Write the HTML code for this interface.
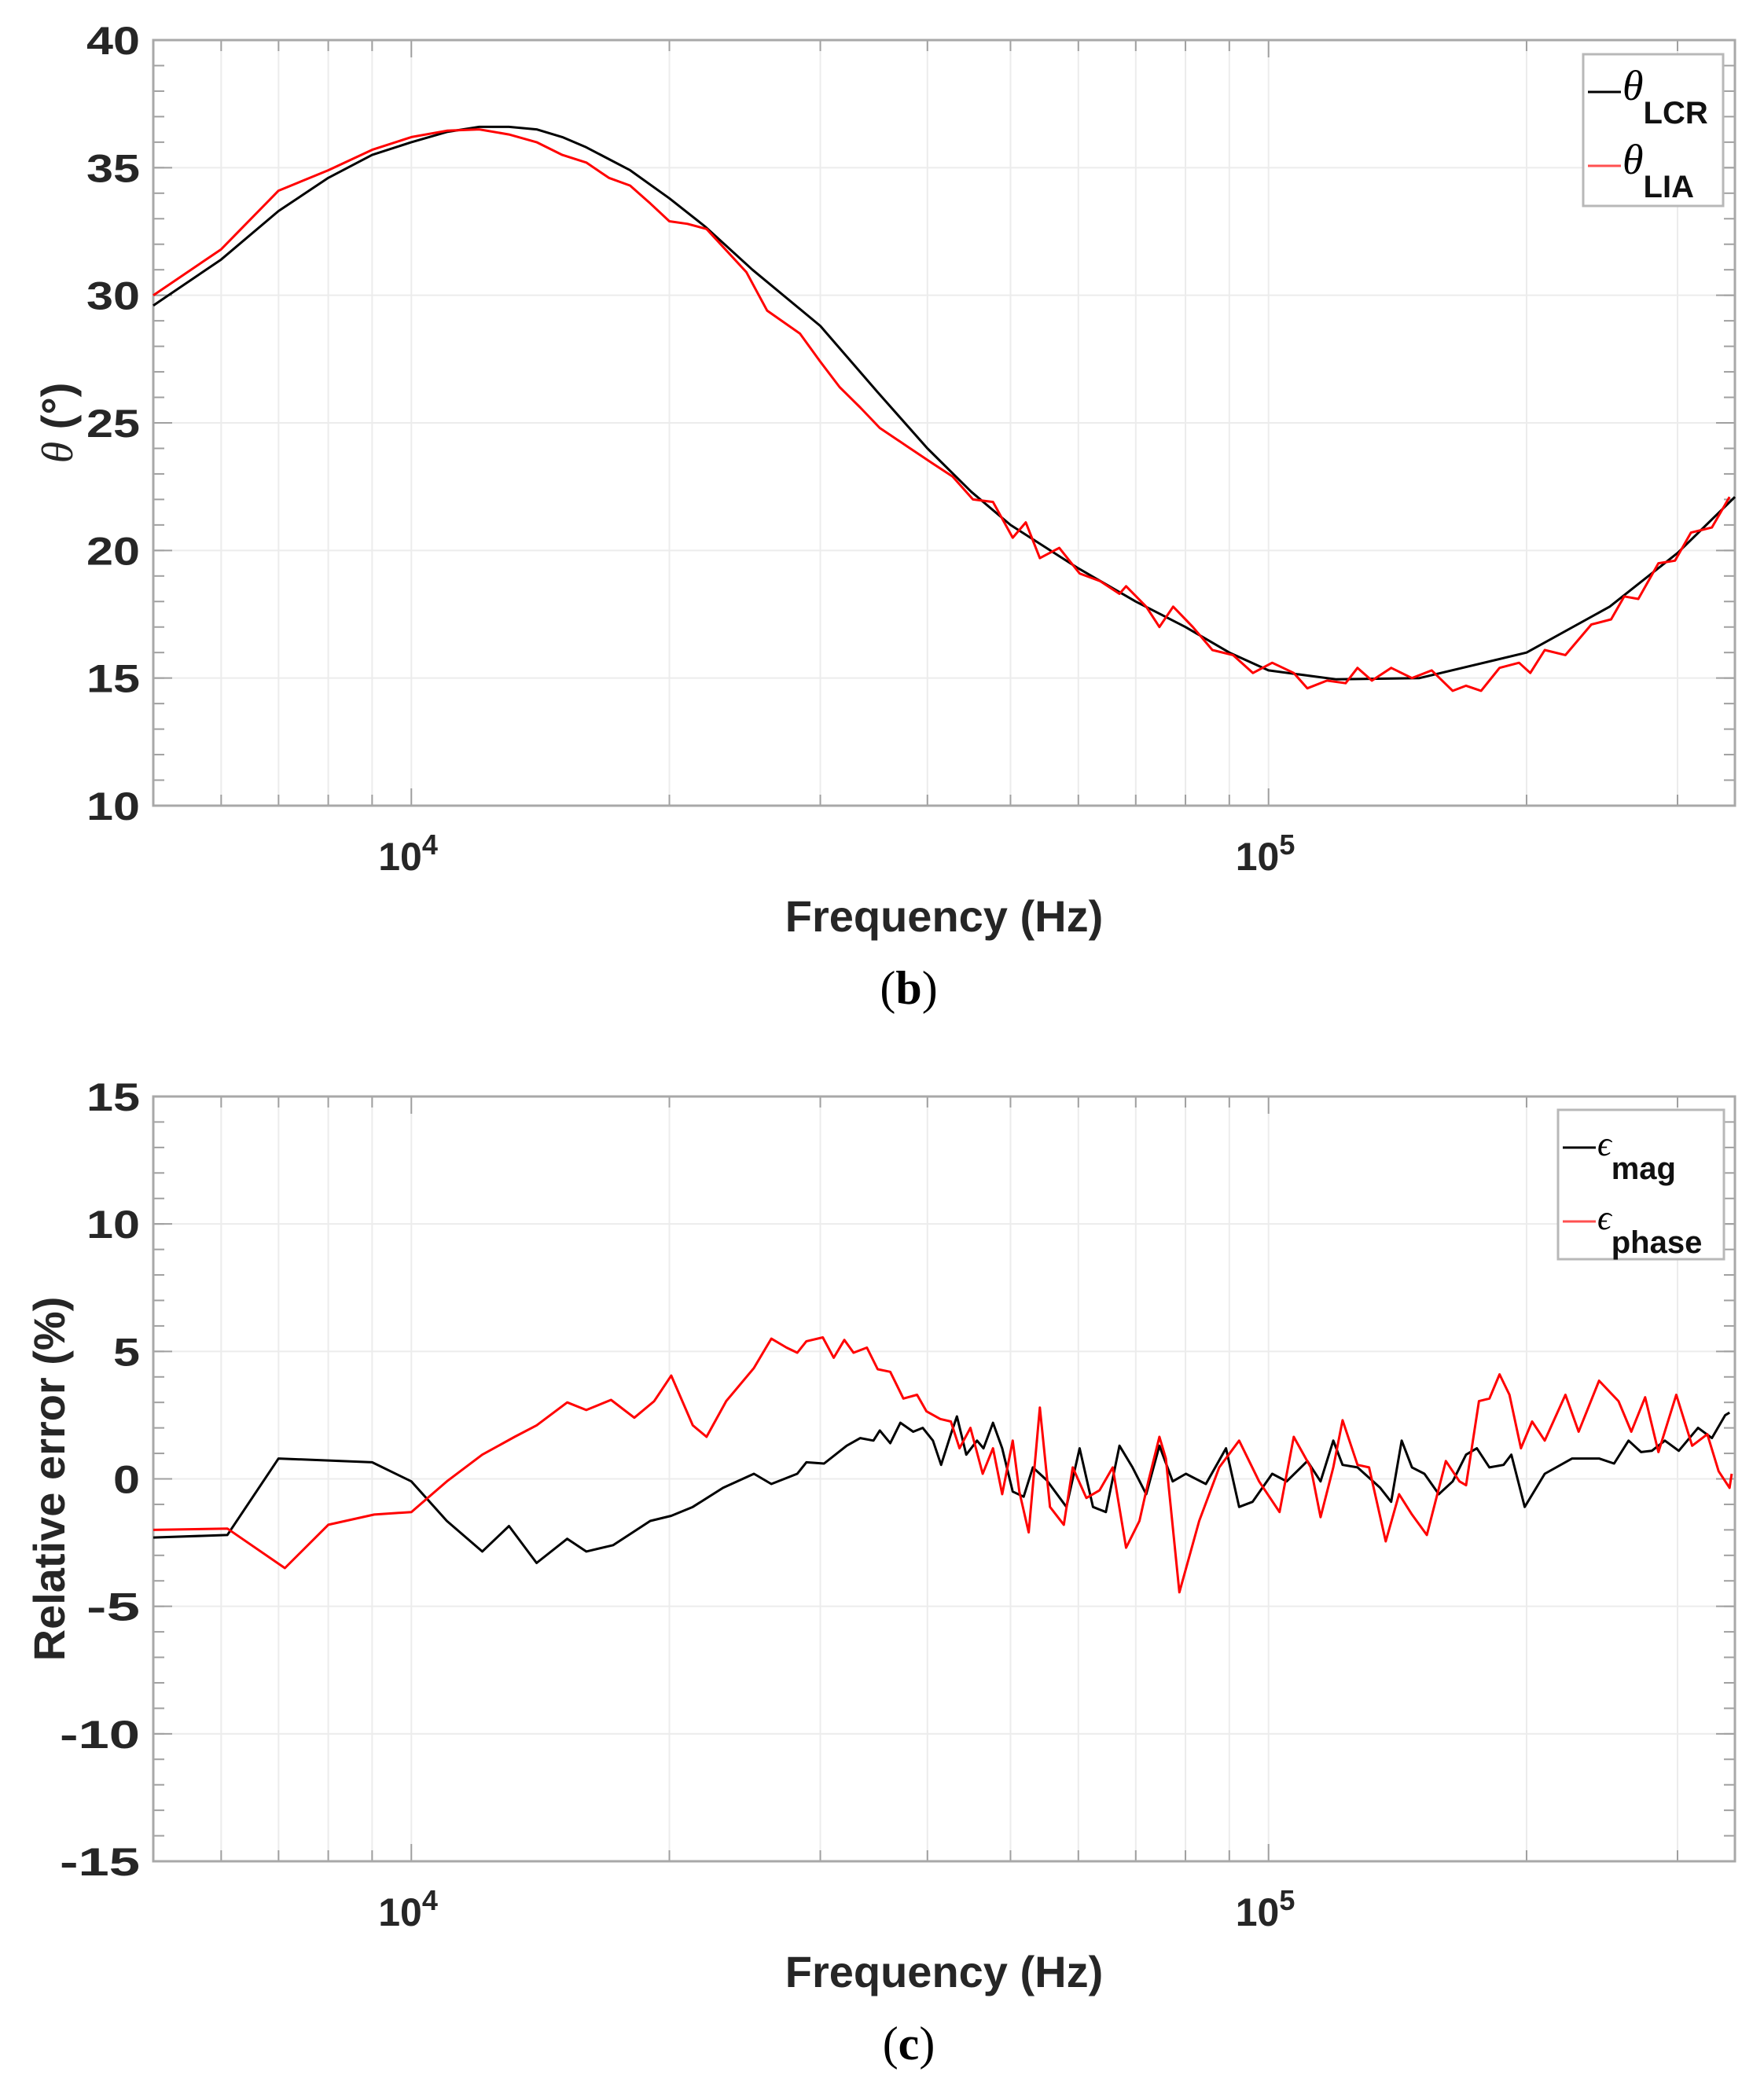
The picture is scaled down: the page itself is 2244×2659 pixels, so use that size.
<!DOCTYPE html>
<html><head><meta charset="utf-8">
<style>
html,body{margin:0;padding:0;background:#fff;}
svg{display:block;}
text{font-family:"Liberation Sans",Arial,sans-serif;}
.tick{font-size:50px;font-weight:bold;fill:#262626;}
.lab{font-size:56px;font-weight:bold;fill:#262626;}
</style></head>
<body>
<svg id="chart" width="2244" height="2659" viewBox="0 0 2244 2659" xmlns="http://www.w3.org/2000/svg"></svg>
<script>
// ---- data (frequency in kHz) ----
const lcrFreq = [5,6,7,8,9,10,11,12,13,14,15,16,18,20,22,25,30,35,40,45,50,60,70,80,90,100,120,150,200,250,300,350];
const lcrTheta = [29.6,31.4,33.3,34.6,35.5,36.0,36.4,36.6,36.6,36.5,36.2,35.8,34.9,33.8,32.7,31.0,28.8,26.2,24.0,22.3,21.0,19.3,18.0,17.0,16.0,15.3,14.95,15.0,16.0,17.8,19.9,22.1];
const liaFreq = [5,6,7,8,9,10,11,12,13,14,15,16,17,18,19,20,21,22.1,24.6,26.0,28.4,30.0,31.6,33.4,35.2,37.8,40.6,42.8,45.2,47.7,50.3,52.1,54.1,57.0,60.2,63.6,67.0,68.2,72.0,74.6,77.4,81.6,86.0,90.9,95.9,101,107,111,117,123,127,132,139,147,155,164,170,177,186,196,202,210,222,238,251,260,270,285,298,311,329,345];
const liaTheta = [30.0,31.8,34.1,34.9,35.7,36.2,36.45,36.5,36.3,36.0,35.5,35.2,34.6,34.3,33.6,32.9,32.8,32.6,30.9,29.4,28.5,27.4,26.4,25.6,24.8,24.1,23.4,22.9,22.0,21.9,20.5,21.1,19.7,20.1,19.1,18.8,18.3,18.6,17.8,17.0,17.8,17.0,16.1,15.9,15.2,15.6,15.2,14.6,14.9,14.8,15.4,14.9,15.4,15.0,15.3,14.5,14.7,14.5,15.4,15.6,15.2,16.1,15.9,17.1,17.3,18.2,18.1,19.5,19.6,20.7,20.9,22.1];
const magFreq = [5,6.1,7,9,10,11,12.1,13,14,15.2,16,17.2,19,20.1,21.3,23.1,25.1,26.3,28.2,28.9,30.3,32.2,33.4,34.6,35.2,36.2,37.2,38.5,39.5,40.6,41.5,42.6,43.3,44.4,45.7,46.5,47.7,48.9,50.3,51.8,53.1,55.1,58.1,60.2,62.4,64.6,67.0,69.4,72.0,74.6,77.3,80.1,84.5,89.2,92.4,95.8,101,105,111,115,119,122,127,135,139,143,147,152,158,164,170,175,181,188,192,199,210,226,243,253,263,272,280,290,301,317,329,341,345];
const magErr = [-2.3,-2.2,0.8,0.65,-0.1,-1.65,-2.85,-1.85,-3.3,-2.35,-2.85,-2.6,-1.65,-1.45,-1.1,-0.35,0.2,-0.2,0.2,0.65,0.6,1.3,1.6,1.5,1.9,1.4,2.2,1.85,2.0,1.5,0.55,1.75,2.45,0.95,1.5,1.2,2.2,1.2,-0.5,-0.7,0.45,-0.05,-1.1,1.2,-1.1,-1.3,1.3,0.45,-0.6,1.3,-0.1,0.2,-0.2,1.2,-1.1,-0.9,0.2,-0.1,0.7,-0.1,1.5,0.55,0.45,-0.35,-0.9,1.5,0.45,0.2,-0.6,-0.1,0.95,1.2,0.45,0.55,0.95,-1.1,0.2,0.8,0.8,0.6,1.5,1.05,1.1,1.5,1.1,2.0,1.6,2.5,2.6];
const phFreq = [5,6.1,7.12,8,9.05,10,11,12.1,13.2,14,15.2,16,17.1,18.2,19.2,20.1,21.3,22.1,23.3,25.1,26.3,27.4,28.2,28.9,30.2,31.1,32,32.8,34,35,36.2,37.5,38.9,39.9,41.4,42.6,43.6,44.9,46.4,47.7,48.9,50.3,51.2,52.5,54.1,55.6,57.7,59.1,61.3,63.5,65.8,68.2,70.7,72.4,74.6,75.9,78.7,83,87.6,92.4,97.5,103,107,112,115,119,122,127,131,137,142,147,153,161,167,170,176,181,186,191,197,203,210,222,230,243,256,265,275,285,299,312,325,335,345,347];
const phErr = [-2.0,-1.95,-3.5,-1.8,-1.4,-1.3,-0.1,0.95,1.65,2.1,3.0,2.7,3.1,2.4,3.05,4.05,2.1,1.65,3.05,4.35,5.5,5.15,4.95,5.4,5.55,4.75,5.45,4.95,5.15,4.3,4.2,3.15,3.3,2.65,2.35,2.25,1.2,2.0,0.2,1.2,-0.6,1.5,-0.5,-2.1,2.8,-1.1,-1.8,0.45,-0.75,-0.45,0.45,-2.7,-1.65,-0.1,1.65,0.8,-4.45,-1.65,0.45,1.5,-0.1,-1.3,1.65,0.45,-1.5,0.45,2.3,0.55,0.45,-2.45,-0.6,-1.4,-2.2,0.7,-0.1,-0.25,3.05,3.15,4.1,3.3,1.2,2.25,1.5,3.3,1.85,3.85,3.05,1.85,3.2,1.05,3.3,1.3,1.75,0.3,-0.35,0.2];
const yTicksTop = [10,15,20,25,30,35,40];
const yTicksBot = [-15,-10,-5,0,5,10,15];

const NS = "http://www.w3.org/2000/svg";
const svg = document.getElementById('chart');
function mk(tag, attrs, parent){const e=document.createElementNS(NS,tag);for(const k in attrs)e.setAttribute(k,attrs[k]);(parent||svg).appendChild(e);return e;}

const X0=195, X1=2207, FMIN=5, FMAX=350;
function xs(f){return X0+(Math.log10(f)-Math.log10(FMIN))/(Math.log10(FMAX)-Math.log10(FMIN))*(X1-X0);}
const minorF=[6,7,8,9,20,30,40,50,60,70,80,90,200,300];

function panel(name, top, bot, ymin, ymax, yTicks, series, legend, xlab, ylab, ylabX, tag){
  const g=mk('g',{});
  
  
  const ys=v=>bot-(v-ymin)/(ymax-ymin)*(bot-top);
  [...minorF,10,100].forEach(f=>{
    const l=mk('line',{x1:xs(f),x2:xs(f),y1:top,y2:bot,stroke:'#ececec','stroke-width':2},g);
    
  });
  yTicks.forEach(v=>{
    const l=mk('line',{x1:X0,x2:X1,y1:ys(v),y2:ys(v),stroke:'#ececec','stroke-width':2},g);
    
  });
  for(let v=ymin; v<=ymax; v+=1){
    mk('line',{x1:X0,x2:X0+14,y1:ys(v),y2:ys(v),stroke:'#a0a0a0','stroke-width':2},g);
    mk('line',{x1:X1-14,x2:X1,y1:ys(v),y2:ys(v),stroke:'#a0a0a0','stroke-width':2},g);
  }
  [...minorF,10,100].forEach(f=>{
    const L=(f===10||f===100)?22:14;
    mk('line',{x1:xs(f),x2:xs(f),y1:bot,y2:bot-L,stroke:'#a0a0a0','stroke-width':2},g);
    mk('line',{x1:xs(f),x2:xs(f),y1:top,y2:top+L,stroke:'#a0a0a0','stroke-width':2},g);
  });
  yTicks.forEach(v=>{
    mk('line',{x1:X0,x2:X0+24,y1:ys(v),y2:ys(v),stroke:'#a0a0a0','stroke-width':2},g);
    mk('line',{x1:X1-24,x2:X1,y1:ys(v),y2:ys(v),stroke:'#a0a0a0','stroke-width':2},g);
    const t=mk('text',{x:178,y:ys(v)+18,'text-anchor':'end',class:'tick',textLength:String(v).length*34,lengthAdjust:'spacingAndGlyphs'},g);
    t.textContent=v;
    
  });
  const box=mk('rect',{x:X0,y:top,width:X1-X0,height:bot-top,fill:'none',stroke:'#a8a8a8','stroke-width':3},g);
  
  [[10,'4'],[100,'5']].forEach(([f,e])=>{
    const t=mk('text',{x:xs(f)-42,y:bot+82,class:'tick'},g);
    t.innerHTML='10<tspan dy="-20" font-size="36">'+e+'</tspan>';
    
  });
  series.forEach(s=>{
    const pts=s.f.map((f,i)=>xs(f).toFixed(1)+','+ys(s.v[i]).toFixed(1)).join(' ');
    const p=mk('polyline',{points:pts,fill:'none',stroke:s.c,'stroke-width':3,'stroke-linejoin':'round'},g);
    
  });
  const lg=mk('g',{},g);
  
  mk('rect',{x:legend.x,y:legend.y,width:legend.w,height:legend.h,fill:'#fff',stroke:'#b8b8b8','stroke-width':3},lg);
  legend.items.forEach((it,i)=>{
    const cy=legend.y+48+i*94;
    const e=mk('g',{},lg);
    
    mk('line',{x1:legend.x+6,x2:legend.x+48,y1:cy,y2:cy,stroke:it.c,'stroke-width':3},e);
    const t=mk('text',{x:legend.x+50,y:cy+10},e);
    t.innerHTML='<tspan font-family="Liberation Serif,serif" font-style="italic" font-size="'+it.sz+'">'+it.sym+'</tspan><tspan dy="30" font-weight="bold" font-size="40" fill="#111">'+it.sub+'</tspan>';
  });
  const xl=mk('text',{x:1201,y:bot+160,'text-anchor':'middle',class:'lab'},g);
  xl.textContent=xlab;
  
  const cy=(top+bot)/2;
  const yl=mk('text',{x:ylabX,y:cy,'text-anchor':'middle',class:'lab',transform:'rotate(-90 '+ylabX+' '+cy+')'},g);
  yl.innerHTML=ylab;
  
  const tg=mk('text',{x:1156,y:bot+252,'text-anchor':'middle','font-size':'60',style:'font-family:"Liberation Serif",serif'},g);
  tg.innerHTML='(<tspan font-weight="bold">'+tag+'</tspan>)';
  
}

panel('theta-chart',51,1025,10,40,yTicksTop,
  [{f:lcrFreq,v:lcrTheta,c:'#000',name:'theta-lcr-line'},{f:liaFreq,v:liaTheta,c:'#ff0000',name:'theta-lia-line'}],
  {x:2014,y:69,w:178,h:193,items:[{c:'#000',sym:'θ',sub:'LCR',sz:54},{c:'#ff5050',sym:'θ',sub:'LIA',sz:54}]},
  'Frequency (Hz)','<tspan font-family="Liberation Serif,serif" font-style="italic" font-weight="normal">θ</tspan> (°)',92,'b');

panel('error-chart',1395,2368,-15,15,yTicksBot,
  [{f:magFreq,v:magErr,c:'#000',name:'eps-mag-line'},{f:phFreq,v:phErr,c:'#ff0000',name:'eps-phase-line'}],
  {x:1982,y:1412,w:211,h:190,items:[{c:'#000',sym:'ϵ',sub:'mag',sz:44},{c:'#ff5050',sym:'ϵ',sub:'phase',sz:44}]},
  'Frequency (Hz)','Relative error (%)',82,'c');
</script>
</body></html>
